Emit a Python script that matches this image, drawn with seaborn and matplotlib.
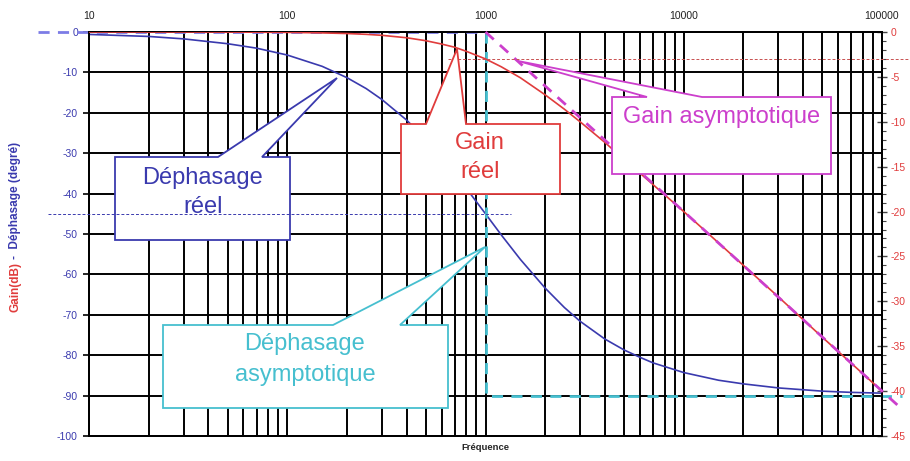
import numpy as np
import matplotlib
matplotlib.use('Agg')
import matplotlib.pyplot as plt
import seaborn as sns
from matplotlib.lines import Line2D
from matplotlib.patches import Polygon
from matplotlib.ticker import LogLocator, NullFormatter, MultipleLocator

# values
freq = [10, 20, 30, 50, 70, 100, 150, 200, 250, 300, 400, 500, 600, 700,
        800, 1000, 1200, 1500, 2000, 2500, 3000, 4000, 5000, 6000, 7000,
        10000, 15000, 20000, 30000, 50000, 70000, 100000]
phase_deg = [-0.6, -1.1, -1.7, -2.9, -4.0, -5.7, -8.5, -11.3, -14.0, -16.7,
             -21.8, -26.6, -31.0, -35.0, -38.7, -45.0, -50.2, -56.3, -63.4,
             -68.2, -71.6, -76.0, -78.7, -80.5, -81.9, -84.3, -86.2, -87.1,
             -88.1, -88.9, -89.2, -89.4]
gain_db = [0.0, 0.0, 0.0, -0.01, -0.02, -0.04, -0.1, -0.17, -0.26, -0.37,
           -0.64, -0.97, -1.34, -1.7, -2.15, -3.0, -3.87, -5.1, -7.0, -8.6,
           -10.0, -12.3, -14.2, -15.7, -17.0, -20.0, -23.5, -26.0, -29.5,
           -34.0, -36.9, -40.0]

# asymptotes
phase_asym_top_freq = [5.5, 1000]
phase_asym_top_deg = [0, 0]
phase_asym_freq = [1000, 1000, 126000]
phase_asym_deg = [0, -90, -90]
gain_asym_freq = [1000, 126000]
gain_asym_db = [0, -42]

# reference lines (-45 deg, -3 dB)
ref_phase_freq = [6.2, 1340]
ref_phase_deg = [-45, -45]
ref_gain_freq = [650, 138000]
ref_gain_db = [-3, -3]

x_ticks = [10, 100, 1000, 10000, 100000]
x_tick_labels = ['10', '100', '1000', '10000', '100000']

BLUE = '#3a3aae'
RED = '#e03c3c'
MAGENTA = '#cc3fcc'
CYAN = '#46bfcf'
LAVENDER = '#7c7ce6'

sns.set_style('white')
plt.rcParams['font.family'] = ['Liberation Sans', 'DejaVu Sans']
plt.rcParams['axes.unicode_minus'] = False

W, H = 910, 461
fig = plt.figure(figsize=(W / 100, H / 100), dpi=100)
ax = fig.add_axes([89 / W, 1 - 436 / H, (882 - 89) / W, (436 - 32) / H])
ax2 = ax.twinx()

ax.set_xscale('log')
ax.set_xlim(10, 100000)
ax.set_ylim(-100, 0)
ax2.set_ylim(-45, 0)

# grid
ax.xaxis.set_minor_locator(LogLocator(base=10, subs=np.arange(2, 10)))
ax.xaxis.set_minor_formatter(NullFormatter())
ax.grid(True, which='both', axis='x', color='black', lw=1.4)
ax.grid(True, which='major', axis='y', color='black', lw=1.4)
ax.set_axisbelow(True)

for a in (ax, ax2):
    for s in a.spines.values():
        s.set_color('black')
        s.set_linewidth(1.4)

# x labels on top
ax.set_xticks(x_ticks)
ax.set_xticklabels(x_tick_labels)
ax.xaxis.tick_top()
ax.tick_params(axis='x', which='both', length=0, labelsize=7.5, pad=8,
               labelcolor='#222222')
ax.set_xlabel('Fréquence', fontsize=6.8, fontweight='bold', labelpad=5)
ax.xaxis.set_label_position('bottom')

ax.yaxis.set_major_locator(MultipleLocator(10))
ax.tick_params(axis='y', which='major', length=4, width=1.2, color='black',
               labelsize=7.5, labelcolor=BLUE, pad=4)

ax2.yaxis.set_major_locator(MultipleLocator(5))
ax2.yaxis.set_minor_locator(MultipleLocator(1))
ax2.tick_params(axis='y', which='major', direction='inout', length=7,
                width=1.0, color='#444444', labelsize=7.5, labelcolor=RED,
                pad=3)
ax2.tick_params(axis='y', which='minor', direction='out', length=3,
                width=0.8, color='#444444')
ax2.grid(False)

# y label in two colours
fig.text(15 / W, 1 - 262 / H, 'Gain(dB)', rotation=90, color=RED,
         fontsize=8.5, fontweight='bold', ha='center', va='top')
fig.text(15 / W, 1 - 259 / H, '-  Déphasage (degré)', rotation=90,
         color=BLUE, fontsize=8.5, fontweight='bold', ha='center',
         va='bottom')

# curves
sns.lineplot(x=freq, y=phase_deg, ax=ax, color=BLUE, lw=1.2, zorder=3)
sns.lineplot(x=freq, y=gain_db, ax=ax2, color=RED, lw=1.2, zorder=3)

ax.plot(phase_asym_top_freq, phase_asym_top_deg, color=LAVENDER, lw=2,
        ls=(0, (4, 3)), clip_on=False, zorder=4)
ax.plot(phase_asym_freq, phase_asym_deg, color=CYAN, lw=2,
        ls=(0, (4, 3)), clip_on=False, zorder=4)
ax2.plot(gain_asym_freq, gain_asym_db, color=MAGENTA, lw=2,
         ls=(0, (4, 3)), clip_on=False, zorder=4)

ax2.plot(ref_gain_freq, ref_gain_db, color='#c85050', lw=0.7,
         ls=(0, (3, 2)), clip_on=False, zorder=6)


def callout(box, base, tip, color, lines, text_y, text_x=None):
    x0, y0, x1, y1 = box
    pts = [(x0, y0), (base[0], y0), tip, (base[1], y0), (x1, y0),
           (x1, y1), (x0, y1)]
    pts = [(px / W, 1 - py / H) for px, py in pts]
    fig.add_artist(Polygon(pts, closed=True, facecolor='white',
                           edgecolor=color, lw=1.3, zorder=5,
                           transform=fig.transFigure))
    tx = (x0 + x1) / 2 if text_x is None else text_x
    for line, ty in zip(lines, text_y):
        fig.text(tx / W, 1 - ty / H, line, color=color, fontsize=17,
                 ha='center', va='center', zorder=6)


callout((115, 157, 290, 240), (218, 262), (337, 78), BLUE,
        ['Déphasage', 'réel'], [178, 207], 203)
callout((401, 124, 560, 194), (426, 466), (457, 49), RED,
        ['Gain', 'réel'], [143, 172], 480)
callout((612, 97, 831, 174), (647, 702), (518, 61), MAGENTA,
        ['Gain asymptotique'], [117], 722)
callout((163, 325, 448, 408), (333, 400), (485, 247), CYAN,
        ['Déphasage', 'asymptotique'], [344, 375], 305)

# -45 deg marker sits above the callout boxes
fig.add_artist(Line2D(ref_phase_freq, ref_phase_deg, color=BLUE, lw=0.7,
                      ls=(0, (3, 2)), transform=ax.transData, zorder=7))

fig.savefig('out.png', dpi=100)
